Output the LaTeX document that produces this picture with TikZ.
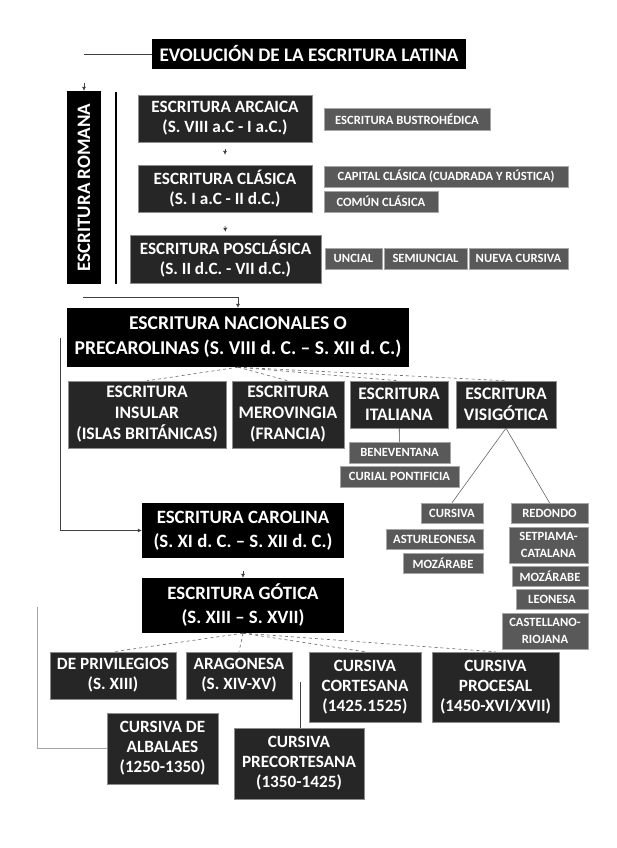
\documentclass[tikz,border=0pt]{standalone}
\usepackage{fontspec}
\setmainfont{Carlito}
\frenchspacing
\usetikzlibrary{arrows.meta}

\begin{document}
\begin{tikzpicture}[x=1pt, y=-1pt,
    topbox/.style={fill=black, text=white, inner sep=0pt, align=center},
    midbox/.style={fill=black!85, draw=black!45, text=white, inner sep=0pt, align=center,
        font=\bfseries\fontsize{17.2}{20}\selectfont},
    leafbox/.style={fill=black!65, draw=black!35, text=white, inner sep=0pt, align=center,
        font=\bfseries\fontsize{12.6}{17}\selectfont},
    link/.style={draw=black!75, line width=0.6pt},
    tip/.style={-{Latex[length=4pt,width=4pt]}},
    branch/.style={draw=black!60, dashed, line width=0.6pt}]
    \useasboundingbox[fill=white] (0,0) rectangle (616,848);

    % cabecera y escritura romana
    \node[topbox, minimum width=314pt, minimum height=30pt, font=\bfseries\fontsize{19.2}{22}\selectfont]
        (title) at (309,54) {EVOLUCIÓN DE LA ESCRITURA LATINA};
    \node[topbox, rotate=90, minimum width=193pt, minimum height=34pt, font=\bfseries\fontsize{19}{22}\selectfont]
        (romana) at (84,187.5) {ESCRITURA ROMANA};
    \coordinate (tl) at (84,54);
    \coordinate (rt) at (84,83);
    \draw[link] (title) -- (tl);
    \draw[link, tip] (rt) -- (romana);
    \draw[line width=2pt] (116,92) -- (116,284);

    \node[midbox, minimum width=174pt, minimum height=47pt]
        (arcaica) at (225,118.5) {ESCRITURA ARCAICA\\(S. VIII a.C - I a.C.)};
    \node[midbox, minimum width=174pt, minimum height=47pt]
        (clasica) at (225,188.5) {ESCRITURA CLÁSICA\\(S. I a.C - II d.C.)};
    \node[midbox, minimum width=191pt, minimum height=48pt]
        (posclasica) at (225.5,259) {ESCRITURA POSCLÁSICA\\(S. II d.C. - VII d.C.)};
    \coordinate (a1) at (225,149);
    \coordinate (a2) at (225,226);
    \draw[link, tip] (a1) -- ([yshift=10pt]clasica.north);
    \draw[link, tip] (a2) -- ([yshift=3pt]posclasica.north);

    \node[leafbox, minimum width=166pt, minimum height=22pt]
        (bustro) at (407,119) {ESCRITURA BUSTROHÉDICA};
    \node[leafbox, minimum width=244pt, minimum height=21pt]
        (capital) at (446,176.5) {CAPITAL CLÁSICA (CUADRADA Y RÚSTICA)};
    \node[leafbox, minimum width=114pt, minimum height=21pt]
        (comun) at (381,201.5) {COMÚN CLÁSICA};
    \node[leafbox, minimum width=57pt, minimum height=21pt]
        (uncial) at (353.5,258.5) {UNCIAL};
    \node[leafbox, minimum width=83pt, minimum height=21pt]
        (semiuncial) at (425.5,258.5) {SEMIUNCIAL};
    \node[leafbox, minimum width=99pt, minimum height=21pt]
        (nueva) at (518.5,258.5) {NUEVA CURSIVA};

    % escrituras nacionales
    \node[topbox, minimum width=342pt, minimum height=59pt, font=\bfseries\fontsize{19.6}{25}\selectfont]
        (nacional) at (238,337.5) {ESCRITURA NACIONALES O\\PRECAROLINAS (S. VIII d. C. – S. XII d. C.)};
    \coordinate (nl) at (83,297);
    \draw[link, tip] (nl) -| (nacional);

    \node[midbox, minimum width=158pt, minimum height=67pt, font=\bfseries\fontsize{17.6}{21}\selectfont]
        (insular) at (147,414.5) {ESCRITURA\\INSULAR\\(ISLAS BRITÁNICAS)};
    \node[midbox, minimum width=112pt, minimum height=67pt, font=\bfseries\fontsize{17.6}{21}\selectfont]
        (merovingia) at (288,414.5) {ESCRITURA\\MEROVINGIA\\(FRANCIA)};
    \node[midbox, minimum width=98pt, minimum height=47pt, font=\bfseries\fontsize{17.6}{21}\selectfont]
        (italiana) at (399,404.5) {ESCRITURA\\ITALIANA};
    \node[midbox, minimum width=100pt, minimum height=47pt, font=\bfseries\fontsize{17.6}{21}\selectfont]
        (visigotica) at (506,404.5) {ESCRITURA\\VISIGÓTICA};
    \foreach \kid in {insular, merovingia, italiana, visigotica}
        \draw[branch] (nacional.south) -- (\kid.north);

    \node[leafbox, minimum width=101pt, minimum height=21pt]
        (beneventana) at (399.5,452.5) {BENEVENTANA};
    \node[leafbox, minimum width=119pt, minimum height=21pt]
        (curial) at (399.5,476.5) {CURIAL PONTIFICIA};
    \draw[link] (italiana) -- (beneventana);

    \node[leafbox, minimum width=62pt, minimum height=20pt]
        (cursiva) at (452,513) {CURSIVA};
    \node[leafbox, minimum width=97pt, minimum height=20pt]
        (asturleonesa) at (434.5,539) {ASTURLEONESA};
    \node[leafbox, minimum width=80pt, minimum height=20pt]
        (mozarabeA) at (443,563) {MOZÁRABE};
    \node[leafbox, minimum width=77pt, minimum height=20pt]
        (redondo) at (549.5,513) {REDONDO};
    \node[leafbox, minimum width=79pt, minimum height=36pt]
        (setpiama) at (548.5,545) {SETPIAMA-\\CATALANA};
    \node[leafbox, minimum width=76pt, minimum height=20pt]
        (mozarabeB) at (550,576) {MOZÁRABE};
    \node[leafbox, minimum width=72pt, minimum height=20pt]
        (leonesa) at (552,599) {LEONESA};
    \node[leafbox, minimum width=86pt, minimum height=36pt]
        (castellano) at (545,631) {CASTELLANO-\\RIOJANA};
    \draw[link, draw=black!60] (visigotica.south) -- (cursiva.north);
    \draw[link, draw=black!60] (visigotica.south) -- (redondo.north);

    % carolina y gotica
    \node[topbox, minimum width=202pt, minimum height=55pt, font=\bfseries\fontsize{18.8}{24}\selectfont]
        (carolina) at (243,530.5) {ESCRITURA CAROLINA\\(S. XI d. C. – S. XII d. C.)};
    \node[topbox, minimum width=202pt, minimum height=55pt, font=\bfseries\fontsize{18.8}{24}\selectfont]
        (gotica) at (243,605.5) {ESCRITURA GÓTICA\\(S. XIII – S. XVII)};
    \coordinate (cl) at (60,338);
    \draw[link, tip] (cl) |- (carolina);
    \coordinate (g1) at (243,571);
    \draw[link, tip] (g1) -- (gotica);

    \node[midbox, minimum width=126pt, minimum height=47pt]
        (privilegios) at (113,675.5) {DE PRIVILEGIOS\\(S. XIII)};
    \node[midbox, minimum width=106pt, minimum height=47pt]
        (aragonesa) at (239,675.5) {ARAGONESA\\(S. XIV-XV)};
    \node[midbox, minimum width=112pt, minimum height=70pt]
        (cortesana) at (365,687) {CURSIVA\\CORTESANA\\(1425.1525)};
    \node[midbox, minimum width=127pt, minimum height=70pt]
        (procesal) at (495.5,687) {CURSIVA\\PROCESAL\\(1450-XVI/XVII)};
    \node[midbox, minimum width=111pt, minimum height=71pt]
        (albalaes) at (162.5,748.5) {CURSIVA DE\\ALBALAES\\(1250-1350)};
    \node[midbox, minimum width=130pt, minimum height=71pt]
        (precortesana) at (299,763.5) {CURSIVA\\PRECORTESANA\\(1350-1425)};
    \foreach \kid in {privilegios, aragonesa, cortesana, procesal}
        \draw[branch] (gotica.south) -- (\kid.north);

    \coordinate (pc) at (300,682);
    \draw[link] (pc) -- (pc |- precortesana.north);
    \coordinate (al) at (37,607);
    \draw[link, draw=black!35] (al) |- (albalaes);
\end{tikzpicture}
\end{document}
